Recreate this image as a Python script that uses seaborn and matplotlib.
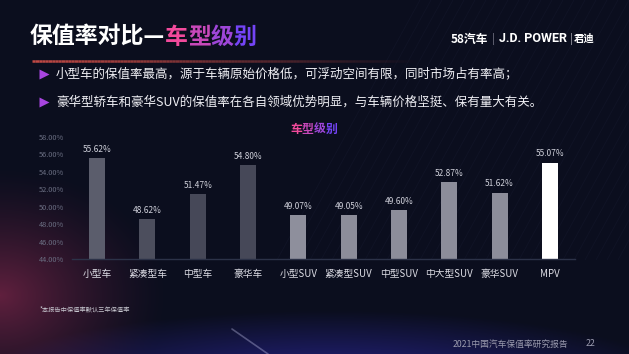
import numpy as np
import matplotlib
matplotlib.use("Agg")
import matplotlib.pyplot as plt
from matplotlib.collections import LineCollection
import seaborn as sns
import pandas as pd

# ---------------- data ----------------
categories = ["小型车", "紧凑型车", "中型车", "豪华车", "小型SUV",
              "紧凑型SUV", "中型SUV", "中大型SUV", "豪华SUV", "MPV"]
values = [55.62, 48.62, 51.47, 54.80, 49.07, 49.05, 49.60, 52.87, 51.62, 55.07]
y_ticks = [44, 46, 48, 50, 52, 54, 56, 58]

title_white = "保值率对比—"
title_grad = "车型级别"
chart_title = "车型级别"
bullets = ["小型车的保值率最高，源于车辆原始价格低，可浮动空间有限，同时市场占有率高；",
           "豪华型轿车和豪华SUV的保值率在各自领域优势明显，与车辆价格坚挺、保有量大有关。"]
footnote = "*本报告中保值率默认三年保值率"
footer = "2021中国汽车保值率研究报告"
page_no = "22"

bar_colors = ["#5b5d6c", "#4c4e5d", "#464858", "#464858", "#8e8f9c",
              "#8c8d9a", "#8c8d9a", "#8c8d9a", "#8c8d9a", "#ffffff"]

sns.set_theme(style="dark")
plt.rcParams['font.family'] = ['Noto Sans CJK SC', 'DejaVu Sans']

W, H = 629, 354
fig = plt.figure(figsize=(W / 100, H / 100), dpi=100)

# ---------------- background ----------------
bg = fig.add_axes([0, 0, 1, 1])
bg.axis('off')
yy, xx = np.mgrid[0:H, 0:W]
img = np.ones((H, W, 3)) * (np.array([11, 14, 30]) / 255)
d = np.sqrt(((xx - 0) / 170) ** 2 + ((yy - 295) / 130) ** 2)
red = np.clip(1 - d, 0, 1) ** 1.4
img += red[..., None] * np.array([85, 18, 32]) / 255
d2 = np.sqrt(((xx - 330) / 360) ** 2 + ((yy - 385) / 75) ** 2)
pur = np.clip(1 - d2, 0, 1)
img += pur[..., None] * np.array([28, 22, 110]) / 255
img = np.clip(img, 0, 1)
bg.imshow(img, extent=[0, W, H, 0], aspect='auto', zorder=0)
bg.set_xlim(0, W)
bg.set_ylim(H, 0)

# faint diagonal stripes top-right
segs = []
for x0 in range(420, 1000, 11):
    segs.append([(x0, 0), (x0 - 0.55 * 260, 260)])
lc = LineCollection(segs, colors=(0.45, 0.5, 0.75, 0.05), linewidths=0.6, zorder=1)
bg.add_collection(lc)
# light streak bottom
bg.plot([232, 268], [329, 354], color=(0.8, 0.8, 0.95, 0.35), lw=1.2, zorder=1)

# red underline under title (fading)
xs = np.linspace(32, 420, 120)
segs = [[(xs[i], 61), (xs[i + 1], 61)] for i in range(len(xs) - 1)]
alphas = np.linspace(0.95, 0.0, len(segs))
cols = [(0.80, 0.30, 0.28, a) for a in alphas]
bg.add_collection(LineCollection(segs, colors=cols, linewidths=1.8, zorder=2))

renderer = fig.canvas.get_renderer()


def grad_text(x, y, text, size, c0, c1):
    c0 = np.array(matplotlib.colors.to_rgb(c0))
    c1 = np.array(matplotlib.colors.to_rgb(c1))
    n = len(text)
    for i, ch in enumerate(text):
        f = i / max(n - 1, 1)
        t = bg.text(x, y, ch, fontsize=size, weight='bold', color=c0 * (1 - f) + c1 * f,
                    ha='left', va='center', zorder=3)
        ext = t.get_window_extent(renderer)
        x = ext.x1
    return x


# title
t = bg.text(30, 37, title_white, fontsize=16.5, weight='bold', color='white',
            ha='left', va='center', zorder=3)
xe = t.get_window_extent(renderer).x1
grad_text(xe, 37, title_grad, 16.5, "#f24a9c", "#7444f6")

# logo
bg.text(451, 39, "58汽车", fontsize=8.5, weight='bold', color='white', ha='left', va='center')
bg.text(493, 39, "|", fontsize=7, color='#8a8a9a', ha='center', va='center')
bg.text(499, 39, "J.D. POWER", fontsize=9, weight='bold', color='white', ha='left', va='center',
        family=['Roboto', 'DejaVu Sans'])
bg.text(571, 39, "|", fontsize=7, color='#c0c0c8', ha='center', va='center')
bg.text(574, 39, "君迪", fontsize=7.5, weight='bold', color='white', ha='left', va='center')

# bullets
for i, line in enumerate(bullets):
    yb = 74 + i * 28
    bg.plot(44, yb, marker='>', ms=6.5, color='#a845e0', mec='none', zorder=3)
    bg.text(56, yb, line, fontsize=9, color='#f0f0f5', ha='left', va='center', zorder=3)

# chart title
grad_text(290, 129, chart_title, 8.5, "#f24a9c", "#7444f6")

# footnote and footer
bg.text(40, 309, footnote, fontsize=4.5, color='#c8c8d0', ha='left', va='center')
bg.text(453, 344, footer, fontsize=6.3, color='#9a9aae', ha='left', va='center')
bg.text(586, 344, page_no, fontsize=6.3, color='#9a9aae', ha='left', va='center')

# ---------------- chart ----------------
ax = fig.add_axes([72 / W, (H - 259) / H, (575 - 72) / W, (259 - 137) / H])
ax.set_facecolor('none')
df = pd.DataFrame({"category": categories, "value": values})
sns.barplot(data=df, x="category", y="value", hue="category", palette=bar_colors,
            width=0.32, saturation=1, legend=False, ax=ax, zorder=2,
            linewidth=0, edgecolor='none')
ax.set_ylim(44, 58)
ax.set_xlim(-0.5, 9.5)
ax.set_yticks(y_ticks)
ax.set_yticklabels([f"{v:.2f}%" for v in y_ticks])
ax.set_xlabel("")
ax.set_ylabel("")
ax.grid(False)
for s in ["top", "right", "left"]:
    ax.spines[s].set_visible(False)
ax.spines["bottom"].set_color("#2c3248")
ax.spines["bottom"].set_linewidth(1.0)
ax.tick_params(axis='y', length=0, labelsize=5.3, labelcolor='#6a6e82', pad=6)
ax.tick_params(axis='x', length=0, labelsize=7, labelcolor='#dcdce4', pad=7)

for cont, v in zip(ax.containers, values):
    ax.bar_label(cont, labels=[f"{v:.2f}%"], padding=3, fontsize=6, color='#cfd0da')

fig.savefig("out.png", dpi=100, facecolor=fig.get_facecolor())
